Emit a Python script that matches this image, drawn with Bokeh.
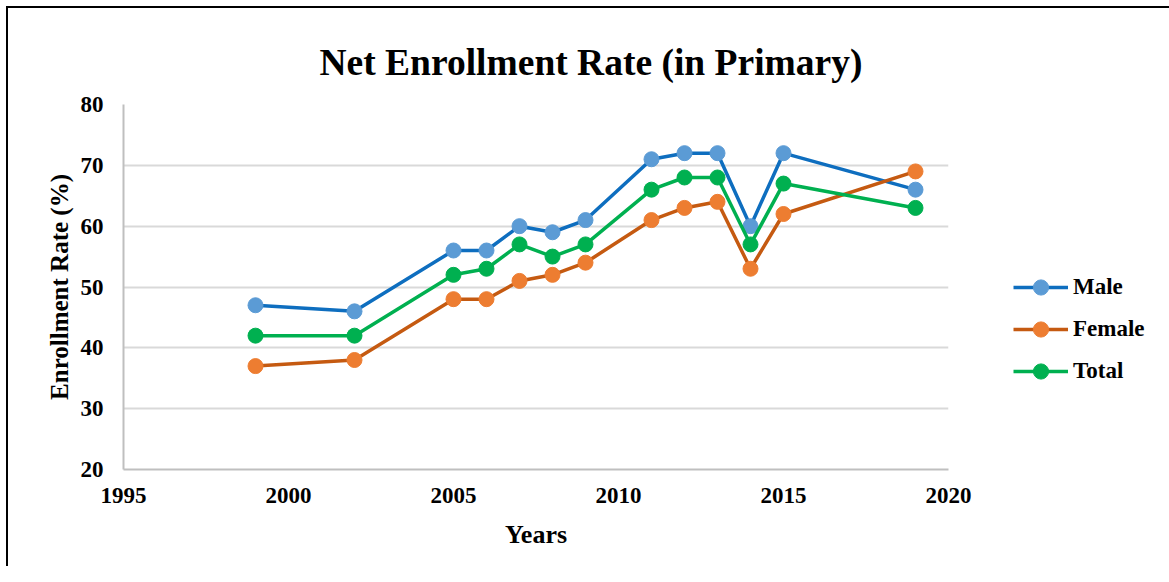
from bokeh.plotting import figure
from bokeh.models import Legend, LegendItem, SingleIntervalTicker, Range1d
from bokeh.embed import file_html
from bokeh.resources import INLINE

years = [1999, 2002, 2005, 2006, 2007, 2008, 2009, 2011, 2012, 2013, 2014, 2015, 2019]
male = [47, 46, 56, 56, 60, 59, 61, 71, 72, 72, 60, 72, 66]
female = [37, 38, 48, 48, 51, 52, 54, 61, 63, 64, 53, 62, 69]
total = [42, 42, 52, 53, 57, 55, 57, 66, 68, 68, 57, 67, 63]

series = [
    ("Male", male, "#0E6EBF", "#5B9BD5"),
    ("Female", female, "#C55A11", "#ED7D31"),
    ("Total", total, "#00B050", "#00B050"),
]

FONT = "Liberation Serif"

p = figure(
    frame_width=825, frame_height=365,
    min_border_left=115, min_border_right=205, min_border_top=96, min_border_bottom=97,
    x_range=Range1d(1995, 2020), y_range=Range1d(20, 80),
    output_backend="svg", toolbar_location=None,
    title="Net Enrollment Rate (in Primary)",
)
p.styles = {"border-top": "2px solid black", "border-left": "2px solid black",
            "margin-left": "6px", "margin-top": "6px"}

p.title.text_font = FONT
p.title.text_font_size = "37.5px"
p.title.text_font_style = "bold"
p.title.align = "left"
p.title.offset = 196
p.title.standoff = 44
p.title.text_color = "black"

p.outline_line_color = None
p.background_fill_color = "white"
p.border_fill_color = "white"

p.xaxis.ticker = SingleIntervalTicker(interval=5)
p.yaxis.ticker = SingleIntervalTicker(interval=10)
for ax in (p.xaxis, p.yaxis):
    ax.major_tick_line_color = None
    ax.minor_tick_line_color = None
    ax.axis_line_color = "#BFBFBF"
    ax.axis_line_width = 2
    ax.major_label_text_font = FONT
    ax.major_label_text_font_size = "23px"
    ax.major_label_text_font_style = "bold"
    ax.major_label_text_color = "black"
    ax.axis_label_text_font = FONT
    ax.axis_label_text_font_size = "25px"
    ax.axis_label_text_font_style = "bold"
    ax.axis_label_text_color = "black"
p.xaxis.axis_label = "Years"
p.yaxis.axis_label = "Enrollment Rate (%)"
p.xaxis.axis_label_text_font_size = "26px"
p.xaxis.major_label_standoff = 12
p.yaxis.major_label_standoff = 14
p.xaxis.axis_label_standoff = 14
p.yaxis.axis_label_standoff = 5

p.xgrid.grid_line_color = None
p.ygrid.grid_line_color = "#D9D9D9"
p.ygrid.grid_line_width = 2

items = []
for name, vals, lc, mc in series:
    ln = p.line(years, vals, line_color=lc, line_width=3.5)
    sc = p.scatter(years, vals, size=15, fill_color=mc, line_color=mc)
    items.append(LegendItem(label=name, renderers=[ln, sc]))

legend = Legend(items=items, location=(65, 79))
legend.border_line_color = None
legend.background_fill_alpha = 0
legend.padding = 0
legend.margin = 0
legend.spacing = 4
legend.glyph_width = 55
legend.glyph_height = 38
legend.label_height = 38
legend.label_standoff = 5
legend.label_text_font = FONT
legend.label_text_font_size = "23px"
legend.label_text_font_style = "bold"
legend.label_text_color = "black"
p.add_layout(legend, "right")

open("out.html", "w").write(file_html(p, INLINE))
